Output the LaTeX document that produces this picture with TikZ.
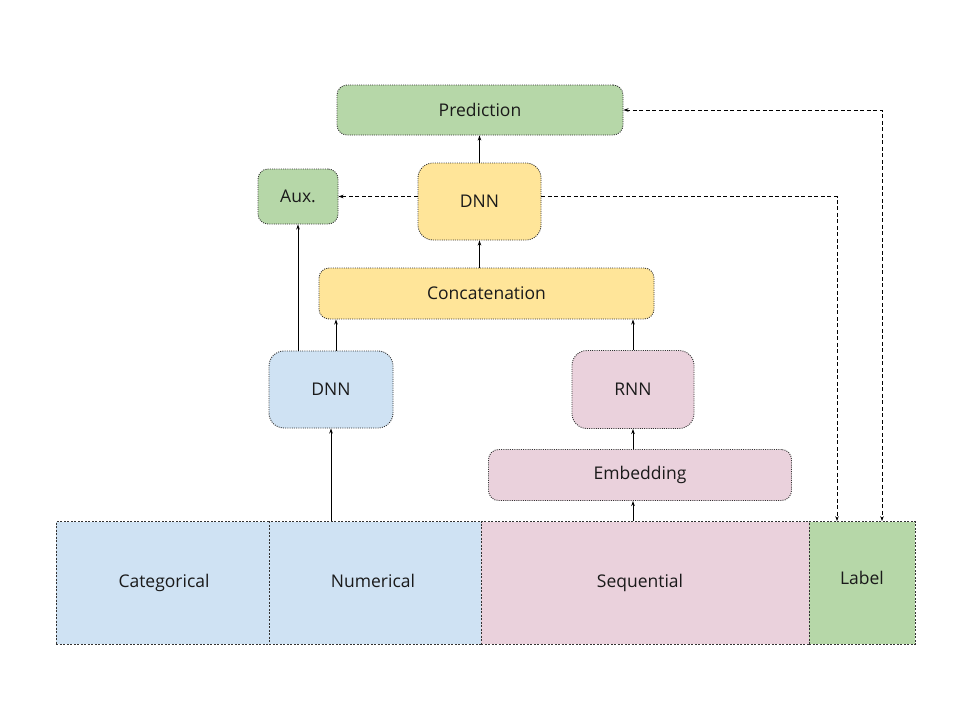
\documentclass[tikz,border=0pt]{standalone}
\usepackage{fontspec}
\setmainfont{Open Sans}
\usetikzlibrary{arrows.meta,calc}
\definecolor{cblue}{HTML}{CFE2F3}
\definecolor{cgreen}{HTML}{B6D7A8}
\definecolor{cyellow}{HTML}{FFE599}
\definecolor{cpink}{HTML}{EAD1DC}
\definecolor{cborder}{HTML}{333333}
\definecolor{ctext}{HTML}{1A1A1A}
\tikzset{
  txt/.style={font=\fontsize{17.5}{21}\selectfont, text=ctext},
  box/.style={draw=cborder, line width=0.9pt, dash pattern=on 1pt off 1.2pt,
    rounded corners=10pt, minimum width=#1, inner sep=0pt, txt},
  bigbox/.style={box=#1, rounded corners=15pt},
  cell/.style={draw=cborder, line width=0.8pt, dash pattern=on 2pt off 1.5pt,
    minimum width=#1, minimum height=122.5pt, inner sep=0pt, txt},
  arr/.style={-{Stealth[length=5pt,width=3.5pt]}, line width=0.9pt, black},
  darr/.style={arr, dash pattern=on 4pt off 2.5pt},
  ddarr/.style={{Stealth[length=5pt,width=3.5pt]}-{Stealth[length=5pt,width=3.5pt]}, line width=0.9pt, black, dash pattern=on 4pt off 2.5pt},
}
\begin{document}
\begin{tikzpicture}[x=1pt,y=-1pt]
\path[use as bounding box, fill=white] (0,0) rectangle (960,720);

\node[box=286pt, minimum height=50pt, fill=cgreen] (pred) at (480,110) {Prediction};
\node[box=80pt, minimum height=55pt, fill=cgreen] (aux) at (298,196.5) {Aux.};
\node[bigbox=123pt, minimum height=77pt, fill=cyellow] (dnnT) at (479.5,201.5) {DNN};
\node[box=335pt, minimum height=51pt, fill=cyellow] (concat) at (486.5,293.5) {Concatenation};
\node[bigbox=124pt, minimum height=77pt, fill=cblue] (dnnL) at (331,389.5) {DNN};
\node[bigbox=122pt, minimum height=78pt, fill=cpink] (rnn) at (633,389.5) {RNN};
\node[box=303pt, minimum height=51pt, fill=cpink] (emb) at (640,475) {Embedding};

\node[cell=213pt, fill=cblue] (cat) at (162.5,582.75) {};
\node[cell=212pt, fill=cblue] (num) at (375,582.75) {};
\node[cell=328pt, fill=cpink] (seq) at (645,582.75) {};
\node[cell=106pt, fill=cgreen] (label) at (862,582.75) {};
\node[txt, anchor=base, inner sep=0pt] (cattxt) at (164,587) {Categorical};
\node[txt, anchor=base, inner sep=0pt] (numtxt) at (373,587) {Numerical};
\node[txt, anchor=base, inner sep=0pt] (seqtxt) at (640,587) {Sequential};
\node[txt, anchor=base, inner sep=0pt] (labeltxt) at (862,584) {Label};

% solid connectors
\draw[arr] (dnnT.north) -- (pred.south -| dnnT.north);
\draw[arr] (concat.north -| dnnT.south) -- (dnnT.south);
\draw[arr] (num.north -| dnnL.south) -- (dnnL.south);
\draw[arr] (dnnL.north -| aux.south) -- (aux.south);
\draw[arr] ([xshift=5pt]dnnL.north) -- ($(concat.south -| dnnL.north)+(5,0)$);
\draw[arr] (rnn.north) -- (concat.south -| rnn.north);
\draw[arr] (emb.north -| rnn.south) -- (rnn.south);
\draw[arr] (seq.north -| rnn.south) -- (emb.south -| rnn.south);

% dashed connectors
\draw[darr] (dnnT.west |- aux.east) -- (aux.east);
\coordinate (labA) at ([xshift=-25pt]label.north);
\coordinate (labB) at ([xshift=20pt]label.north);
\draw[darr] (dnnT.east |- aux.east) -| (labA);
\draw[ddarr] (pred.east) -| (labB);
\end{tikzpicture}
\end{document}
